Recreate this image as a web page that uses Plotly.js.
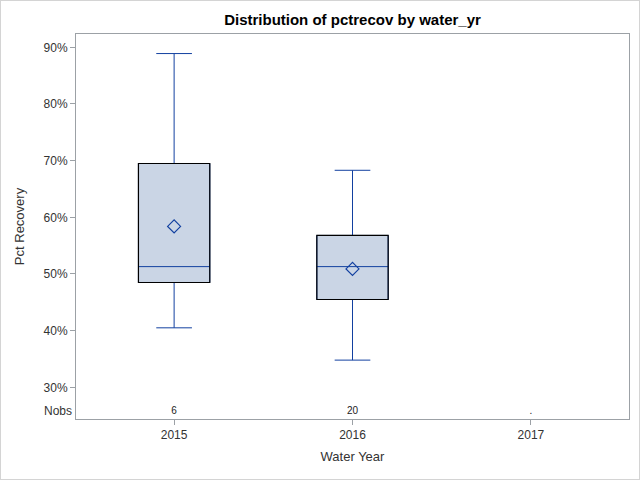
<!DOCTYPE html>
<html>
<head>
<meta charset="utf-8">
<script src="https://cdn.plot.ly/plotly-3.0.1.min.js"></script>
<style>
  html, body { margin: 0; padding: 0; background: #fff; }
  #chart { width: 638px; height: 478px; border: 1px solid #D4D4D4; }
</style>
</head>
<body>
<div id="chart"></div>
<script>
// ---- data (percent) ----
var categories = ['2015', '2016', '2017'];
var boxCats    = ['2015', '2016'];
var q1         = [48.5, 45.5];
var median     = [51.3, 51.3];
var q3         = [69.5, 56.8];
var lowerWhisk = [40.5, 34.8];
var upperWhisk = [88.9, 68.3];
var means      = [58.4, 50.9];
var nobs       = ['6', '20', '.'];
var yTicks     = [30, 40, 50, 60, 70, 80, 90];
var yTickText  = yTicks.map(function (v) { return v + '%'; });

// ---- styles ----
var BLUE = '#1240A0';
var FILL = '#CAD5E5';
var AXIS = '#9CA1A6';
var TEXT = '#333333';
var FONT = 'Liberation Sans, Arial, sans-serif';
var BOXW = 0.4;
var NOBS_Y = 25.75;

var traces = [
  {
    type: 'box',
    x: boxCats,
    q1: q1, median: median, q3: q3,
    lowerfence: lowerWhisk, upperfence: upperWhisk,
    width: BOXW,
    whiskerwidth: 0.5,
    fillcolor: FILL,
    line: { color: BLUE, width: 1 },
    boxpoints: false,
    hoverinfo: 'none',
    showlegend: false
  },
  {
    type: 'scatter',
    mode: 'markers',
    x: boxCats,
    y: means,
    marker: { symbol: 'diamond-open', size: 10, color: BLUE, line: { width: 1.2, color: BLUE } },
    hoverinfo: 'none',
    showlegend: false
  },
  {
    type: 'scatter',
    mode: 'text',
    x: categories,
    y: categories.map(function () { return NOBS_Y; }),
    text: nobs,
    textfont: { family: FONT, size: 10, color: '#222' },
    hoverinfo: 'none',
    showlegend: false
  }
];

// black outlines on the boxes, built from the quartile arrays
var shapes = boxCats.map(function (c, i) {
  var idx = categories.indexOf(c);
  return {
    type: 'rect', xref: 'x', yref: 'y', layer: 'above',
    x0: idx - BOXW / 2, x1: idx + BOXW / 2,
    y0: q1[i], y1: q3[i],
    line: { color: '#000', width: 1.2 },
    fillcolor: 'rgba(0,0,0,0)'
  };
});

var layout = {
  width: 638, height: 478,
  margin: { l: 75, r: 10, t: 33, b: 60 },
  paper_bgcolor: '#fff', plot_bgcolor: '#fff',
  font: { family: FONT, size: 12, color: TEXT },
  title: {
    text: '<b>Distribution of pctrecov by water_yr</b>',
    font: { family: FONT, size: 15, color: '#000' },
    x: 0.5, xref: 'paper', xanchor: 'center',
    y: 1 - 19 / 478, yref: 'container', yanchor: 'middle'
  },
  xaxis: {
    type: 'category',
    categoryorder: 'array', categoryarray: categories,
    range: [-0.55, 2.55],
    showline: true, mirror: true, linecolor: AXIS, linewidth: 1,
    ticks: 'outside', ticklen: 5, tickcolor: AXIS,
    showgrid: false, zeroline: false,
    tickfont: { family: FONT, size: 12, color: TEXT },
    title: { text: 'Water Year', font: { family: FONT, size: 13, color: TEXT }, standoff: 10 }
  },
  yaxis: {
    range: [24.41, 92.35],
    tickmode: 'array',
    tickvals: yTicks,
    ticktext: yTickText,
    showline: true, mirror: true, linecolor: AXIS, linewidth: 1,
    ticks: 'outside', ticklen: 5, tickcolor: AXIS,
    showgrid: false, zeroline: false,
    tickfont: { family: FONT, size: 12, color: TEXT },
    title: { text: 'Pct Recovery', font: { family: FONT, size: 13, color: TEXT }, standoff: 16 }
  },
  shapes: shapes,
  annotations: [{
    text: 'Nobs', xref: 'paper', yref: 'y', x: 0, y: NOBS_Y,
    xanchor: 'right', yanchor: 'middle', xshift: -2, showarrow: false,
    font: { family: FONT, size: 12, color: TEXT }
  }]
};

Plotly.newPlot('chart', traces, layout, { displayModeBar: false, staticPlot: true });
</script>
</body>
</html>
